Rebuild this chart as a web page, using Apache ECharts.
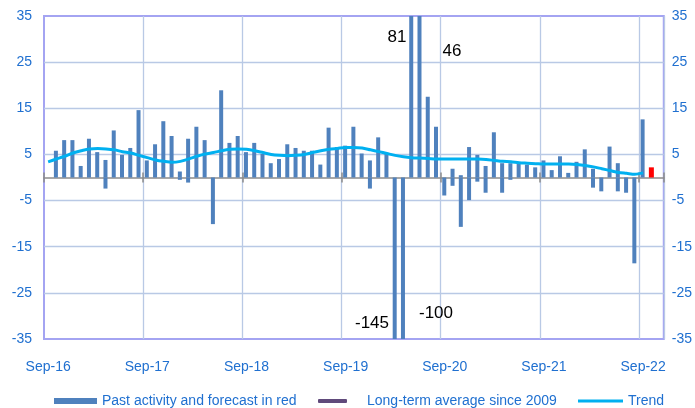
<!DOCTYPE html>
<html><head><meta charset="utf-8">
<script src="https://cdn.jsdelivr.net/npm/echarts@6/dist/echarts.min.js"></script>
<style>html,body{margin:0;padding:0;background:#fff}#c{width:695px;height:408px}</style>
</head><body><div id="c"></div>
<script>
const categories = [
  'Sep-16','Oct-16','Nov-16','Dec-16','Jan-17','Feb-17','Mar-17','Apr-17','May-17','Jun-17','Jul-17','Aug-17',
  'Sep-17','Oct-17','Nov-17','Dec-17','Jan-18','Feb-18','Mar-18','Apr-18','May-18','Jun-18','Jul-18','Aug-18',
  'Sep-18','Oct-18','Nov-18','Dec-18','Jan-19','Feb-19','Mar-19','Apr-19','May-19','Jun-19','Jul-19','Aug-19',
  'Sep-19','Oct-19','Nov-19','Dec-19','Jan-20','Feb-20','Mar-20','Apr-20','May-20','Jun-20','Jul-20','Aug-20',
  'Sep-20','Oct-20','Nov-20','Dec-20','Jan-21','Feb-21','Mar-21','Apr-21','May-21','Jun-21','Jul-21','Aug-21',
  'Sep-21','Oct-21','Nov-21','Dec-21','Jan-22','Feb-22','Mar-22','Apr-22','May-22','Jun-22','Jul-22','Aug-22',
  'Sep-22','Oct-22','Nov-22'
];
// past activity (main bar values)
const activity = [
  null,5.8,8.1,8.1,2.5,8.4,5.5,3.8,10.2,4.9,6.4,14.6,
  3.7,7.2,12.2,9.0,1.3,8.4,11.0,8.1,-10.1,18.9,7.5,9.0,
  5.5,7.5,5.1,3.1,4.0,7.2,6.4,5.8,5.8,2.8,10.8,6.6,
  6.9,11.0,5.2,3.7,8.7,5.3,-145,-100,81,46,17.5,11.0,
  -3.9,1.9,0.5,6.6,4.9,2.5,9.8,3.1,3.1,3.2,2.8,2.2,
  3.7,1.6,4.6,1.0,3.4,6.1,1.9,-3.0,6.7,3.1,-3.3,-18.6,
  12.6,null,null
];
// negative part of bars that cross the zero line
const activityNegPart = [
  null,null,null,null,null,null,null,-2.4,null,null,null,null,
  null,null,null,null,-0.5,-1.1,null,null,null,null,null,null,
  null,null,null,null,null,null,null,null,null,null,null,null,
  null,null,null,-2.4,null,null,null,null,null,null,null,null,
  null,-1.8,-10.7,-4.9,-0.9,-3.3,null,-3.3,-0.5,null,null,null,
  null,null,null,null,null,null,-2.2,null,null,-3.0,null,null,
  null,null,null
];
const forecast = [
  null,null,null,null,null,null,null,null,null,null,null,null,
  null,null,null,null,null,null,null,null,null,null,null,null,
  null,null,null,null,null,null,null,null,null,null,null,null,
  null,null,null,null,null,null,null,null,null,null,null,null,
  null,null,null,null,null,null,null,null,null,null,null,null,
  null,null,null,null,null,null,null,null,null,null,null,null,
  null,2.2,null
];
const trend = [
  3.4,4.0,4.6,5.3,5.8,6.2,6.3,6.2,6.0,5.6,5.3,4.8,
  4.3,3.8,3.5,3.3,3.5,4.0,4.6,5.1,5.4,5.8,6.1,6.2,
  6.1,5.8,5.4,5.0,4.8,4.7,4.8,5.0,5.4,5.8,6.1,6.3,
  6.5,6.5,6.4,6.0,5.6,5.2,4.8,4.5,4.3,4.2,4.1,4.0,
  4.0,4.0,4.0,4.0,4.0,3.9,3.7,3.5,3.4,3.2,3.1,3.0,
  2.9,2.9,2.9,2.9,2.8,2.6,2.3,1.9,1.5,1.1,0.9,0.7,
  1.0,null,null
];
const longTermAverage = [];
const annotations = [
  {text:'81', x:397, y:37},
  {text:'46', x:452, y:51},
  {text:'-145', x:372, y:323},
  {text:'-100', x:436, y:313}
];

const FONT = 'Liberation Sans, Arial, sans-serif';
const BLUE_TXT = '#2070d0';
const GRID_C = '#b9c9e5';
const yGridColors = ['rgba(0,0,0,0)',GRID_C,GRID_C,GRID_C,GRID_C,GRID_C,GRID_C,'rgba(0,0,0,0)'];

const chart = echarts.init(document.getElementById('c'), null, {renderer:'canvas'});
const yAxisBase = {
  type:'value', min:-35, max:35, interval:10,
  axisLine:{show:false}, axisTick:{show:false}
};
const legendText = {color:BLUE_TXT, fontSize:14, fontFamily:FONT};
chart.setOption({
  animation:false,
  backgroundColor:'#fff',
  grid:{left:44, right:23, top:16, bottom:69, show:true, borderColor:'#a4a4f2', borderWidth:2, containLabel:false},
  xAxis:[
    {type:'category', data:categories, boundaryGap:true,
     axisLine:{show:false, onZero:false}, axisTick:{show:false},
     axisLabel:{interval:11, color:BLUE_TXT, fontSize:14, margin:21, fontFamily:FONT},
     splitLine:{show:true, interval:(i)=> i>0 && i%12===0, lineStyle:{color:GRID_C, width:1.3}}},
    {type:'category', data:categories, boundaryGap:true, position:'bottom',
     axisLine:{show:true, onZero:true, lineStyle:{color:'#8c8c8c', width:1.5}},
     axisTick:{show:true, interval:11, length:5, lineStyle:{color:'#8c8c8c', width:1.5}},
     axisLabel:{show:false}, splitLine:{show:false}},
    {type:'category', data:categories, boundaryGap:true, position:'bottom',
     axisLine:{show:false, onZero:true},
     axisTick:{show:true, inside:true, interval:11, length:5, lineStyle:{color:'#8c8c8c', width:1.5}},
     axisLabel:{show:false}, splitLine:{show:false}}
  ],
  yAxis:[
    Object.assign({}, yAxisBase, {position:'left',
      axisLabel:{color:BLUE_TXT, fontSize:14, margin:12, fontFamily:FONT},
      splitLine:{show:true, lineStyle:{color:yGridColors, width:1.3}}}),
    Object.assign({}, yAxisBase, {position:'right',
      axisLabel:{color:BLUE_TXT, fontSize:14, margin:8, fontFamily:FONT},
      splitLine:{show:false}})
  ],
  legend:[
    {data:[{name:'Past activity and forecast in red', icon:'rect'}], left:54, top:394, padding:0, itemWidth:43, itemHeight:6,
     textStyle:legendText},
    {data:[{name:'Long-term average since 2009', icon:'roundRect'}], left:318, top:394, padding:0, itemWidth:29, itemHeight:4,
     textStyle:Object.assign({}, legendText, {padding:[0,0,0,15]})},
    {data:[{name:'Trend', icon:'rect'}], left:578, top:394, padding:0, itemWidth:45, itemHeight:3,
     textStyle:legendText}
  ],
  series:[
    {name:'Past activity and forecast in red', type:'bar', data:activity, barWidth:4, barGap:'-100%',
     itemStyle:{color:'#4f81bd'}, clip:true},
    {name:'Past activity (negative part)', type:'bar', data:activityNegPart, barWidth:4, barGap:'-100%',
     itemStyle:{color:'#4f81bd'}, clip:true},
    {name:'Forecast', type:'bar', data:forecast, barWidth:5, barGap:'-100%',
     itemStyle:{color:'#ff0000'}, clip:true},
    {name:'Long-term average since 2009', type:'line', data:longTermAverage, symbol:'none',
     itemStyle:{color:'#604a7b'}, lineStyle:{color:'#604a7b', width:3}},
    {name:'Trend', type:'line', data:trend, smooth:0.3, symbol:'none', z:5,
     itemStyle:{color:'#00b0f0'}, lineStyle:{color:'#00b0f0', width:3}}
  ],
  graphic: annotations.map(a => ({type:'text', x:a.x, y:a.y, z:100,
    style:{text:a.text, fill:'#000', font:'17px '+FONT, textAlign:'center', textVerticalAlign:'middle'}}))
});
</script></body></html>
